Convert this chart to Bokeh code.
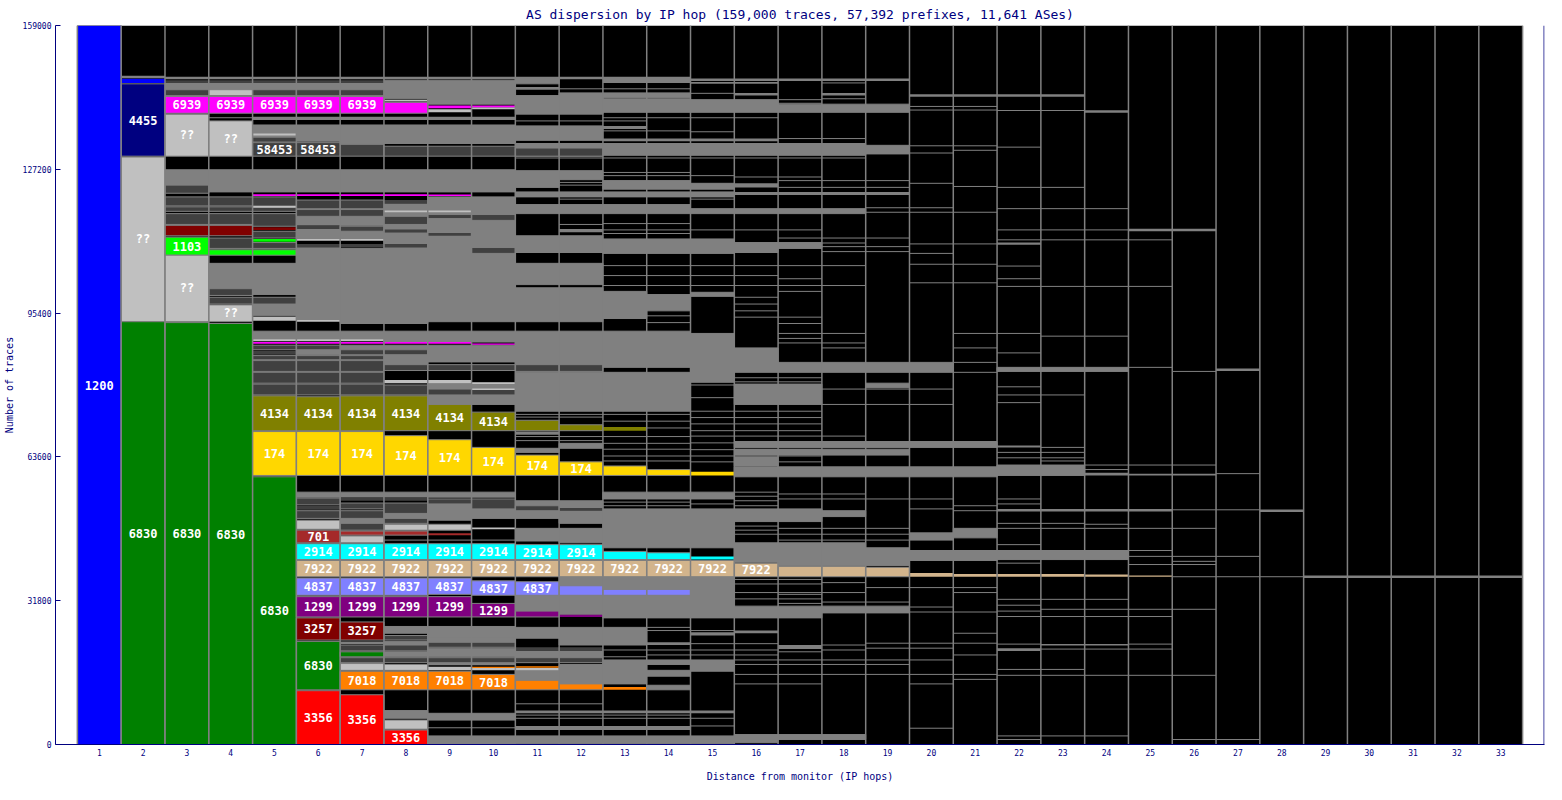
from bokeh.plotting import figure
from bokeh.models import ColumnDataSource, Range1d, FixedTicker, BasicTickFormatter, Span
from bokeh.core.properties import value
from bokeh.embed import file_html
from bokeh.resources import INLINE

TITLE = "AS dispersion by IP hop (159,000 traces, 57,392 prefixes, 11,641 ASes)"
X_LABEL = "Distance from monitor (IP hops)"
Y_LABEL = "Number of traces"
HOPS = list(range(1, 34))
Y_TICKS = [0, 31800, 63600, 95400, 127200, 159000]
TOTAL_TRACES = 159000
K = 1000  # all band values below are in thousands of traces

# top of the stacked traces in each hop column (thousands of traces), hops 1..33
column_top = [159.0, 147.6, 147.4, 147.4, 147.4, 147.4, 147.4, 147.4, 147.4, 147.4, 147.4,
              147.4, 147.4, 147.4, 147.0, 147.0, 147.0, 147.0, 147.0, 143.5, 143.5, 143.5,
              143.5, 140.0, 113.8, 113.8, 82.9, 51.7, 37.1, 37.1, 37.1, 37.1, 37.1]

PALETTE = {
    "blue": "#0000FF", "navy": "#000080", "silver": "#C0C0C0", "green": "#008000",
    "magenta": "#FF00FF", "maroon": "#800000", "lime": "#00FF00", "dgrey": "#404040",
    "olive": "#808000", "gold": "#FFD700", "brown": "#A52A2A", "cyan": "#00FFFF",
    "tan": "#D2B48C", "periwinkle": "#8080FF", "purple": "#800080", "red": "#FF0000",
    "orange": "#FF8000",
}

# named AS blocks: (hop, low, high, colour, label)
as_segments = [
    (1, 0.0, 159.0, "blue", "1200"),
    (2, 146.3, 147.2, "blue", ""), (2, 130.1, 146.1, "navy", "4455"),
    (2, 93.5, 129.9, "silver", "??"), (2, 0.0, 93.5, "green", "6830"),
    (3, 139.6, 143.3, "magenta", "6939"), (3, 130.1, 139.4, "silver", "??"),
    (3, 112.5, 114.8, "maroon", ""), (3, 108.2, 112.2, "lime", "1103"),
    (3, 93.5, 108.2, "silver", "??"), (3, 0.0, 93.3, "green", "6830"),
    (4, 139.6, 143.3, "magenta", "6939"), (4, 130.1, 137.9, "silver", "??"),
    (4, 112.5, 114.8, "maroon", ""), (4, 108.2, 109.4, "lime", ""),
    (4, 93.5, 97.2, "silver", "??"), (4, 0.0, 93.1, "green", "6830"),
    (5, 139.6, 143.3, "magenta", "6939"), (5, 130.1, 133.1, "dgrey", "58453"),
    (5, 121.3, 121.7, "magenta", ""), (5, 113.8, 114.4, "maroon", ""),
    (5, 111.2, 111.8, "lime", ""), (5, 108.2, 109.4, "lime", ""),
    (5, 88.6, 89.0, "magenta", ""), (5, 69.4, 77.1, "olive", "4134"),
    (5, 59.5, 69.2, "gold", "174"), (5, 0.0, 59.2, "green", "6830"),
    (6, 139.6, 143.3, "magenta", "6939"), (6, 130.1, 133.1, "dgrey", "58453"),
    (6, 121.3, 121.7, "magenta", ""), (6, 88.6, 89.0, "magenta", ""),
    (6, 69.4, 76.9, "olive", "4134"), (6, 59.5, 69.2, "gold", "174"),
    (6, 44.6, 47.4, "brown", "701"), (6, 40.9, 44.4, "cyan", "2914"),
    (6, 37.1, 40.7, "tan", "7922"), (6, 33.0, 36.8, "periwinkle", "4837"),
    (6, 28.2, 32.7, "purple", "1299"), (6, 23.1, 28.0, "maroon", "3257"),
    (6, 12.1, 22.8, "green", "6830"), (6, 0.0, 11.9, "red", "3356"),
    (7, 139.6, 143.3, "magenta", "6939"), (7, 121.3, 121.7, "magenta", ""),
    (7, 88.6, 89.0, "magenta", ""), (7, 69.4, 77.1, "olive", "4134"),
    (7, 59.5, 69.2, "gold", "174"), (7, 46.3, 47.2, "brown", ""),
    (7, 40.9, 44.4, "cyan", "2914"), (7, 37.1, 40.7, "tan", "7922"),
    (7, 33.0, 36.8, "periwinkle", "4837"), (7, 28.2, 32.7, "purple", "1299"),
    (7, 23.1, 27.1, "maroon", "3257"), (7, 19.4, 20.5, "green", ""),
    (7, 12.1, 16.2, "orange", "7018"), (7, 0.0, 11.0, "red", "3356"),
    (8, 139.6, 142.0, "magenta", ""), (8, 121.3, 121.7, "magenta", ""),
    (8, 88.6, 89.0, "magenta", ""), (8, 69.4, 77.1, "olive", "4134"),
    (8, 59.5, 68.3, "gold", "174"), (8, 46.3, 47.2, "brown", ""),
    (8, 40.9, 44.4, "cyan", "2914"), (8, 37.1, 40.7, "tan", "7922"),
    (8, 33.0, 36.8, "periwinkle", "4837"), (8, 28.2, 32.7, "purple", "1299"),
    (8, 12.1, 16.2, "orange", "7018"), (8, 0.0, 3.2, "red", "3356"),
    (9, 140.7, 141.3, "magenta", ""), (9, 121.3, 121.6, "magenta", ""),
    (9, 88.6, 89.0, "magenta", ""), (9, 69.4, 75.2, "olive", "4134"),
    (9, 59.5, 67.4, "gold", "174"), (9, 46.3, 46.7, "brown", ""),
    (9, 40.9, 44.4, "cyan", "2914"), (9, 37.1, 40.7, "tan", "7922"),
    (9, 33.2, 36.8, "periwinkle", "4837"), (9, 28.2, 32.7, "purple", "1299"),
    (9, 12.1, 16.2, "orange", "7018"),
    (10, 140.9, 141.3, "magenta", ""), (10, 88.4, 88.7, "magenta", ""),
    (10, 69.4, 73.5, "olive", "4134"), (10, 59.5, 65.7, "gold", "174"),
    (10, 40.9, 44.4, "cyan", "2914"), (10, 37.1, 40.7, "tan", "7922"),
    (10, 33.0, 36.2, "periwinkle", "4837"), (10, 28.2, 31.2, "purple", "1299"),
    (10, 16.9, 17.2, "orange", ""), (10, 12.1, 15.5, "orange", "7018"),
    (11, 69.4, 71.7, "olive", ""), (11, 59.5, 64.0, "gold", "174"),
    (11, 40.9, 44.2, "cyan", "2914"), (11, 37.1, 40.7, "tan", "7922"),
    (11, 33.0, 36.0, "periwinkle", "4837"), (11, 28.2, 29.5, "purple", ""),
    (11, 17.0, 17.3, "orange", ""), (11, 12.1, 14.2, "orange", ""),
    (12, 69.4, 70.7, "olive", ""), (12, 59.5, 62.5, "gold", "174"),
    (12, 40.9, 44.2, "cyan", "2914"), (12, 37.1, 40.7, "tan", "7922"),
    (12, 33.0, 35.1, "periwinkle", ""), (12, 28.2, 28.7, "purple", ""),
    (12, 12.1, 13.4, "orange", ""),
    (13, 69.4, 70.2, "olive", ""), (13, 59.5, 61.6, "gold", ""),
    (13, 40.9, 42.7, "cyan", ""), (13, 37.1, 40.7, "tan", "7922"),
    (13, 33.0, 34.3, "periwinkle", ""), (13, 12.1, 12.7, "orange", ""),
    (14, 59.5, 60.8, "gold", ""), (14, 40.9, 42.4, "cyan", ""),
    (14, 37.1, 40.7, "tan", "7922"), (14, 33.0, 34.3, "periwinkle", ""),
    (15, 59.5, 60.3, "gold", ""), (15, 40.9, 41.6, "cyan", ""),
    (15, 37.1, 40.7, "tan", "7922"),
    (16, 37.1, 40.1, "tan", "7922"), (17, 37.1, 39.4, "tan", ""),
    (18, 37.1, 39.4, "tan", ""), (19, 37.1, 39.2, "tan", ""),
    (20, 37.1, 37.9, "tan", ""), (21, 37.1, 37.7, "tan", ""),
    (22, 37.1, 37.7, "tan", ""), (23, 37.1, 37.7, "tan", ""),
    (24, 37.1, 37.6, "tan", ""), (25, 37.1, 37.4, "tan", ""),
]

# unnamed small-AS bands: (first hop, last hop, low, high)
grey_mid = [
    (3, 7, 144.8, 146.3), (8, 8, 142.8, 146.9), (9, 10, 141.6, 146.9),
    (5, 10, 138.1, 138.8), (5, 6, 133.4, 137.0), (7, 10, 132.9, 137.0),
    (3, 3, 123.7, 127.1), (4, 10, 122.2, 127.1), (4, 4, 100.8, 106.4),
    (5, 5, 99.5, 106.4), (5, 5, 94.8, 97.4), (6, 7, 114.8, 116.8),
    (6, 7, 111.8, 114.0), (6, 6, 93.9, 109.9), (7, 7, 93.1, 109.7),
    (8, 8, 116.8, 119.6), (8, 8, 114.0, 115.0), (8, 8, 110.7, 113.1),
    (8, 8, 93.1, 109.9), (9, 10, 93.5, 121.1),
    (5, 7, 89.6, 91.4), (8, 10, 89.0, 91.4), (6, 6, 86.2, 87.3),
    (7, 8, 87.3, 88.3), (8, 8, 84.0, 86.2), (9, 10, 84.6, 88.3),
    (9, 10, 78.6, 79.9), (9, 10, 75.2, 77.3),
    (6, 10, 54.7, 55.8), (7, 7, 48.9, 50.0), (8, 8, 50.0, 51.1),
    (9, 9, 49.6, 53.2), (10, 10, 50.0, 52.1),
    (7, 7, 22.2, 22.8), (8, 8, 24.6, 26.1), (8, 8, 21.8, 22.8), (8, 8, 19.4, 20.5),
    (9, 10, 23.7, 26.1), (9, 10, 22.6, 23.7), (9, 10, 19.4, 21.3), (9, 10, 17.5, 18.1),
    (8, 8, 5.8, 7.5), (9, 10, 5.4, 6.9), (9, 10, 0.0, 1.9),
    (11, 11, 146.1, 147.4), (11, 11, 144.8, 145.4), (11, 11, 139.4, 143.5),
    (12, 12, 139.4, 144.1), (13, 14, 146.3, 147.2), (13, 14, 143.1, 144.1),
    (13, 14, 139.8, 142.8), (15, 16, 146.1, 146.5), (15, 16, 139.8, 142.6),
    (16, 16, 143.5, 144.1), (17, 19, 139.8, 141.6), (18, 18, 143.5, 144.1),
    (11, 12, 133.6, 136.8), (13, 13, 136.1, 136.8), (13, 16, 133.4, 134.0),
    (11, 12, 130.1, 132.9), (13, 18, 130.3, 132.9), (19, 19, 130.6, 132.5),
    (11, 11, 123.2, 126.9), (12, 12, 124.9, 126.9), (13, 14, 122.8, 124.7),
    (15, 15, 122.8, 124.1), (16, 16, 123.2, 124.1), (11, 15, 121.1, 122.2),
    (16, 19, 121.5, 122.2), (11, 14, 117.4, 119.4), (15, 18, 117.4, 118.5),
    (12, 12, 113.3, 114.0), (11, 12, 108.8, 112.5), (13, 15, 108.6, 111.8),
    (16, 16, 108.8, 111.0), (17, 17, 109.7, 111.0), (11, 12, 101.7, 106.4),
    (11, 12, 93.5, 101.0), (13, 13, 94.2, 100.2), (14, 14, 95.9, 99.5),
    (15, 15, 99.1, 100.0),
    (11, 12, 84.0, 91.4), (13, 14, 83.4, 91.4), (15, 15, 80.1, 90.9),
    (16, 16, 82.3, 87.7), (17, 20, 82.3, 84.5), (11, 14, 73.7, 82.3),
    (16, 17, 75.2, 79.7), (19, 19, 78.9, 79.9), (11, 11, 68.5, 69.2),
    (11, 11, 64.6, 65.5), (12, 12, 65.5, 66.6), (16, 21, 65.7, 67.0),
    (16, 19, 64.0, 65.3), (16, 16, 61.6, 63.6),
    (16, 21, 59.2, 61.4), (22, 23, 59.5, 61.8), (24, 24, 59.5, 60.1),
    (25, 26, 59.5, 59.9),
    (11, 11, 52.8, 53.9), (11, 11, 50.0, 51.7), (11, 11, 45.0, 47.8),
    (12, 12, 52.1, 53.9), (12, 12, 48.9, 51.7), (12, 12, 44.6, 47.8),
    (13, 15, 54.3, 55.8), (13, 15, 43.5, 52.1), (16, 17, 49.3, 52.1),
    (18, 18, 50.4, 51.7), (16, 16, 40.3, 44.6), (17, 18, 39.6, 44.6),
    (19, 19, 39.6, 43.5), (20, 20, 45.2, 46.8), (20, 21, 40.7, 42.9),
    (21, 21, 45.7, 47.8),
    (11, 11, 29.5, 33.0), (12, 12, 35.1, 37.1), (12, 12, 28.7, 33.0),
    (13, 14, 34.3, 37.1), (13, 14, 28.0, 33.0), (15, 15, 28.0, 37.1),
    (16, 17, 28.0, 30.6), (18, 19, 29.1, 30.6),
    (11, 11, 23.5, 25.9), (12, 13, 22.0, 25.9), (11, 12, 19.2, 20.7),
    (11, 11, 14.2, 16.4), (12, 12, 13.4, 17.7), (13, 13, 13.4, 18.7),
    (14, 14, 22.0, 22.6), (14, 14, 17.7, 18.7), (14, 14, 15.1, 16.4),
    (14, 14, 12.1, 13.1), (15, 15, 24.1, 24.8), (15, 15, 16.2, 18.7),
    (16, 16, 24.6, 25.2), (17, 17, 21.1, 22.0),
    (11, 15, 6.9, 7.5), (11, 14, 3.2, 4.1), (11, 15, 0.2, 1.9),
    (16, 16, 0.4, 2.2), (17, 18, 1.1, 2.2),
    (22, 22, 110.5, 111.0), (22, 24, 82.5, 83.4), (22, 22, 65.7, 66.1),
    (22, 25, 51.5, 52.1), (22, 24, 40.9, 42.9), (22, 22, 20.7, 21.3),
    (23, 24, 21.9, 22.2),
]

grey_dark = [
    (3, 7, 146.3, 146.9), (3, 3, 143.5, 144.8), (5, 7, 143.5, 144.8),
    (5, 5, 133.4, 134.2), (7, 7, 130.1, 132.7), (8, 10, 130.1, 132.3),
    (11, 12, 130.1, 131.9), (3, 3, 121.9, 123.7), (3, 5, 119.1, 121.1),
    (3, 5, 117.9, 118.9), (3, 4, 115.0, 117.4), (5, 5, 114.6, 117.4),
    (4, 4, 109.7, 112.0), (5, 5, 112.0, 113.5), (5, 5, 109.7, 111.0),
    (4, 4, 99.3, 100.8), (4, 5, 97.4, 98.9), (6, 7, 118.5, 120.4),
    (6, 7, 116.8, 118.3), (6, 6, 114.0, 114.8), (7, 7, 113.5, 114.6),
    (6, 8, 109.9, 110.7), (8, 8, 119.6, 120.4), (8, 8, 115.0, 116.8),
    (8, 8, 113.1, 114.0), (9, 9, 116.3, 117.2), (9, 9, 112.5, 113.1),
    (10, 10, 115.9, 117.2), (10, 10, 108.6, 109.9),
    (5, 7, 82.5, 84.9), (5, 7, 79.9, 82.3), (5, 7, 77.3, 79.7),
    (5, 6, 87.3, 88.3), (5, 7, 85.1, 86.0), (5, 5, 86.2, 87.1),
    (7, 7, 86.2, 87.3), (8, 8, 86.2, 87.3), (8, 10, 82.7, 84.0),
    (8, 8, 77.3, 79.5), (9, 10, 77.3, 78.6), (11, 12, 82.5, 84.0),
    (6, 6, 53.0, 54.5), (6, 6, 51.9, 52.8), (6, 7, 50.0, 51.7),
    (7, 8, 53.9, 54.7), (7, 7, 52.1, 53.4), (7, 7, 47.4, 48.9),
    (8, 8, 51.1, 53.4), (8, 8, 48.9, 50.0), (9, 9, 53.2, 54.3),
    (10, 10, 52.1, 54.3),
    (7, 8, 20.7, 22.0), (7, 8, 18.1, 19.2), (8, 8, 23.1, 24.1),
    (9, 10, 21.5, 22.6), (9, 10, 18.1, 19.2),
    (11, 11, 51.7, 52.8), (12, 12, 51.7, 52.3), (11, 12, 20.7, 21.5),
    (11, 12, 18.1, 19.2),
]

grey_light = [
    (4, 4, 143.5, 144.8), (5, 5, 134.7, 135.1), (8, 8, 142.2, 142.6),
    (9, 9, 139.8, 140.5), (10, 10, 140.5, 140.9), (5, 5, 118.7, 119.1),
    (6, 7, 111.4, 111.8), (8, 9, 117.7, 118.1), (5, 5, 93.7, 94.6),
    (6, 6, 93.5, 93.9), (5, 7, 89.2, 89.6), (8, 9, 79.9, 80.6),
    (10, 10, 79.7, 80.1), (10, 10, 78.4, 78.7), (6, 6, 47.6, 49.6),
    (7, 7, 44.6, 46.1), (8, 9, 47.4, 48.7), (10, 10, 47.6, 48.0),
    (7, 7, 16.4, 17.9), (8, 8, 16.4, 17.7), (9, 9, 16.4, 17.2),
    (10, 11, 16.4, 16.9), (8, 8, 3.4, 5.4),
]

# boundaries between traces that ended (black) at a hop: (first hop, last hop, level)
edge_lines = [
    (4, 4, 138.6), (11, 18, 129.7), (8, 10, 45.2), (9, 10, 3.7), (11, 12, 9.0),
    (11, 14, 6.5), (11, 14, 5.8), (12, 14, 145.0), (11, 13, 137.9), (13, 16, 138.6),
    (13, 14, 135.7), (15, 15, 135.5), (17, 18, 134.0), (15, 15, 144.0), (17, 17, 142.6),
    (17, 17, 141.8), (18, 18, 142.8), (18, 18, 146.3), (20, 21, 141.1), (20, 21, 140.3),
    (20, 21, 132.4), (20, 20, 130.8), (21, 21, 131.4), (13, 14, 126.5), (13, 15, 125.8),
    (16, 17, 125.5), (12, 12, 124.3), (17, 19, 124.7), (20, 20, 124.1), (21, 21, 123.4),
    (12, 12, 123.7), (17, 19, 123.2), (12, 12, 120.6), (15, 15, 120.6), (19, 20, 118.7),
    (19, 21, 117.7), (12, 12, 115.0), (13, 14, 115.2), (13, 17, 113.8), (13, 14, 113.0),
    (17, 19, 112.0), (18, 18, 110.9), (18, 19, 110.1), (20, 21, 110.7), (18, 19, 109.0),
    (20, 20, 108.6), (13, 18, 105.9), (20, 21, 106.2), (13, 16, 103.7), (17, 17, 103.0),
    (13, 18, 101.5), (20, 21, 102.1), (17, 17, 100.2), (16, 16, 98.9), (16, 16, 97.4),
    (16, 16, 95.9), (14, 14, 94.8), (16, 17, 94.5), (14, 14, 93.3), (17, 17, 93.1),
    (17, 18, 90.9), (21, 21, 90.9), (17, 17, 89.8), (17, 18, 88.8), (18, 18, 87.7),
    (21, 21, 87.7), (11, 14, 73.0), (11, 12, 72.4), (13, 14, 71.5), (14, 14, 70.0),
    (11, 14, 68.1), (11, 12, 67.2), (13, 14, 66.6), (13, 14, 65.3), (13, 14, 63.8),
    (13, 14, 62.7), (16, 17, 81.1), (16, 17, 80.2), (15, 15, 79.5), (18, 20, 78.6),
    (15, 15, 76.7), (18, 20, 75.2), (15, 17, 73.7), (15, 17, 72.3), (15, 17, 70.9),
    (15, 17, 69.4), (15, 18, 68.2), (15, 18, 66.7), (15, 17, 65.2), (15, 17, 63.8),
    (15, 17, 62.5), (21, 21, 84.5), (21, 21, 82.3), (13, 14, 53.6), (13, 14, 52.8),
    (15, 15, 53.2), (16, 16, 55.8), (16, 16, 54.9), (16, 16, 53.9), (16, 16, 52.8),
    (17, 18, 55.4), (17, 20, 54.3), (20, 20, 52.1), (21, 21, 52.8), (21, 21, 51.7),
    (16, 16, 48.3), (16, 16, 47.4), (16, 16, 46.5), (17, 19, 47.8), (17, 19, 46.5),
    (17, 19, 45.2), (16, 17, 36.5), (16, 17, 35.5), (18, 18, 35.8), (19, 21, 34.7),
    (16, 18, 33.6), (21, 21, 33.6), (17, 17, 33.2), (16, 17, 32.2), (17, 17, 31.2),
    (18, 19, 31.5), (20, 20, 30.4), (20, 21, 29.3), (14, 14, 25.9), (14, 15, 25.2),
    (21, 21, 24.6), (15, 16, 22.3), (18, 18, 22.0), (19, 21, 22.4), (13, 16, 20.9),
    (18, 18, 20.9), (19, 20, 21.3), (14, 16, 19.8), (21, 21, 19.8), (17, 17, 20.5),
    (13, 13, 19.4), (16, 20, 18.7), (16, 19, 17.7), (16, 21, 15.5), (21, 21, 14.4),
    (16, 17, 13.4), (20, 20, 13.4), (15, 15, 5.8), (15, 15, 4.1), (20, 20, 3.6),
    (22, 23, 140.2), (22, 22, 132.1), (22, 23, 123.2), (22, 24, 118.5), (22, 24, 113.8),
    (22, 25, 111.6), (22, 22, 105.8), (22, 22, 103.0), (22, 25, 101.3), (22, 22, 90.9),
    (23, 24, 90.3), (22, 22, 86.6), (25, 25, 83.4), (26, 26, 82.5), (22, 22, 79.1),
    (22, 23, 77.3), (22, 22, 75.6), (23, 23, 65.7), (22, 23, 64.6), (22, 23, 63.4),
    (23, 23, 62.7), (24, 26, 61.8), (24, 24, 60.8), (27, 27, 59.9), (22, 22, 54.3),
    (22, 22, 53.2), (26, 27, 51.9), (22, 23, 48.9), (24, 24, 48.7), (22, 26, 47.8),
    (22, 22, 44.2), (25, 25, 42.9), (25, 27, 41.6), (26, 26, 40.5), (22, 22, 40.1),
    (25, 26, 39.8), (26, 28, 37.1), (22, 24, 32.1), (23, 26, 29.9), (22, 22, 30.8),
    (22, 22, 29.5), (22, 25, 28.3), (22, 22, 22.2), (25, 25, 22.2), (23, 25, 21.1),
    (22, 23, 16.6), (22, 26, 15.3), (22, 24, 1.9), (22, 22, 1.1), (26, 27, 1.1),
]

NAVY = "#000080"
EDGE = "#808080"
FONT = "DejaVu Sans Mono"


def band_source(bands):
    d = dict(left=[], right=[], bottom=[], top=[], la=[])
    for h0, h1, lo, hi in bands:
        for h in range(h0, h1 + 1):
            d["left"].append(h - 0.5)
            d["right"].append(h + 0.5)
            d["bottom"].append(lo * K)
            d["top"].append(hi * K)
            d["la"].append(1.0 if hi - lo >= 0.9 else 0.0)
    return ColumnDataSource(d)


p = figure(width=1546, height=784, output_backend="svg", toolbar_location=None,
           x_range=Range1d(0, max(HOPS) + 1), y_range=Range1d(0, TOTAL_TRACES),
           min_border_left=55, min_border_right=2, min_border_top=24, min_border_bottom=34,
           title=TITLE)
p.background_fill_color = "white"
p.border_fill_color = "white"
p.outline_line_color = None
p.xgrid.visible = False
p.ygrid.visible = False

# black field of ended traces
p.quad(left=[min(HOPS) - 0.5], right=[max(HOPS) + 0.5], bottom=[0], top=[TOTAL_TRACES],
       fill_color="black", line_color=None)

# edge lines in black areas
ex0, ex1, ey = [], [], []
for h0, h1, y in edge_lines:
    for h in range(h0, h1 + 1):
        ex0.append(h - 0.5)
        ex1.append(h + 0.5)
        ey.append(y * K)
p.segment(x0=ex0, x1=ex1, y0=ey, y1=ey, line_color=EDGE, line_width=1)

for bands, col in ((grey_mid, "#808080"), (grey_dark, "#404040"), (grey_light, "#C0C0C0")):
    p.quad(source=band_source(bands), left="left", right="right", bottom="bottom", top="top",
           fill_color=col, line_color=EDGE, line_alpha="la", line_width=1)

# named AS blocks
ad = dict(left=[], right=[], bottom=[], top=[], color=[], la=[])
ld = dict(x=[], y=[], text=[])
for h, lo, hi, c, lab in as_segments:
    ad["left"].append(h - 0.5)
    ad["right"].append(h + 0.5)
    ad["bottom"].append(lo * K)
    ad["top"].append(hi * K)
    ad["color"].append(PALETTE[c])
    ad["la"].append(1.0 if hi - lo >= 0.9 else 0.0)
    if lab:
        ld["x"].append(h)
        ld["y"].append((lo + hi) / 2 * K)
        ld["text"].append(lab)
p.quad(source=ColumnDataSource(ad), left="left", right="right", bottom="bottom", top="top",
       fill_color="color", line_color=EDGE, line_alpha="la", line_width=1)

# column tops
tx0, tx1, ty = [], [], []
for h, t in zip(HOPS, column_top):
    if t < TOTAL_TRACES / K:
        tx0.append(h - 0.5)
        tx1.append(h + 0.5)
        ty.append(t * K)
p.segment(x0=tx0, x1=tx1, y0=ty, y1=ty, line_color=EDGE, line_width=2.5)

# column separators
sx = [h - 0.5 for h in HOPS] + [max(HOPS) + 0.5]
p.segment(x0=sx, x1=sx, y0=[0] * len(sx), y1=[TOTAL_TRACES] * len(sx),
          line_color=EDGE, line_width=1.5)

p.text(source=ColumnDataSource(ld), x="x", y="y", text="text", text_color="white",
       text_font=value(FONT), text_font_size="12px", text_font_style="bold",
       text_align="center", text_baseline="middle")

p.add_layout(Span(location=max(HOPS) + 0.99, dimension="height", line_color=NAVY, line_width=1))

# title
p.title.text_font = FONT
p.title.text_font_size = "13px"
p.title.text_font_style = "normal"
p.title.text_color = NAVY
p.title.align = "center"
p.title.standoff = 8

# axes
p.xaxis.ticker = FixedTicker(ticks=HOPS)
p.xaxis.minor_tick_line_color = None
p.xaxis.major_tick_in = 0
p.xaxis.major_tick_out = 0
p.xaxis.major_label_standoff = 4
p.xaxis.axis_label = X_LABEL
p.xaxis.axis_label_standoff = 12

p.yaxis.ticker = FixedTicker(ticks=Y_TICKS)
p.yaxis.formatter = BasicTickFormatter(use_scientific=False)
p.yaxis.major_tick_in = 5
p.yaxis.major_tick_out = 0
p.yaxis.minor_tick_line_color = None
p.yaxis.major_label_standoff = 4
p.yaxis.axis_label = Y_LABEL
p.yaxis.axis_label_standoff = 5

for ax in (p.xaxis, p.yaxis):
    ax.axis_line_color = NAVY
    ax.major_label_text_color = NAVY
    ax.major_label_text_font = FONT
    ax.major_label_text_font_size = "8px"
    ax.axis_label_text_color = NAVY
    ax.axis_label_text_font = FONT
    ax.axis_label_text_font_size = "10px"
    ax.axis_label_text_font_style = "normal"
p.yaxis.major_tick_line_color = NAVY
p.xaxis.major_tick_line_color = None

open("out.html", "w").write(file_html(p, INLINE))
